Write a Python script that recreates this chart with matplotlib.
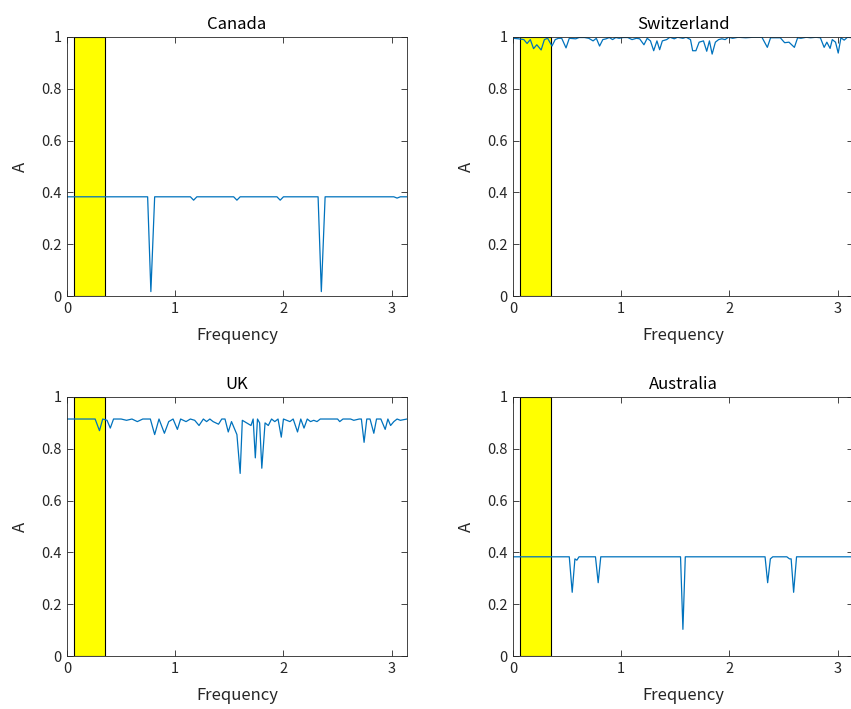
import numpy as np
import matplotlib
matplotlib.use("Agg")
import matplotlib.pyplot as plt
from matplotlib.patches import Rectangle

plt.rcParams['font.family'] = ['Noto Sans CJK JP', 'DejaVu Sans']

# ── data ──────────────────────────────────────────────────────────────────────
canada_f = [0.00, 0.745, 0.775, 0.81, 1.14, 1.17, 1.20, 1.54, 1.57, 1.60,
            1.94, 1.97, 2.00, 2.32, 2.35, 2.385, 3.02, 3.05, 3.08, 3.1416]
canada_a = [0.383, 0.383, 0.017, 0.383, 0.383, 0.370, 0.383, 0.383, 0.370, 0.383,
            0.383, 0.370, 0.383, 0.383, 0.017, 0.383, 0.383, 0.378, 0.383, 0.383]

swiss_f = [0.00, 0.05, 0.10, 0.13, 0.16, 0.19, 0.22, 0.26, 0.29, 0.32,
           0.36, 0.39, 0.42, 0.45, 0.49, 0.52, 0.58, 0.61, 0.66, 0.70,
           0.74, 0.77, 0.80, 0.83, 0.86, 0.89, 0.92, 0.95, 0.98, 1.02,
           1.06, 1.10, 1.14, 1.17, 1.21, 1.24, 1.27, 1.30, 1.33, 1.355,
           1.38, 1.42, 1.45, 1.49, 1.52, 1.57, 1.60, 1.64, 1.66, 1.69,
           1.72, 1.76, 1.79, 1.815, 1.84, 1.87, 1.90, 1.93, 1.96, 1.99,
           2.03, 2.08, 2.15, 2.22, 2.30, 2.35, 2.38, 2.47, 2.51, 2.55,
           2.60, 2.63, 2.66, 2.71, 2.75, 2.80, 2.84, 2.875, 2.90, 2.93,
           2.95, 2.98, 3.005, 3.03, 3.06, 3.09, 3.1416]
swiss_a = [0.995, 0.993, 0.990, 0.975, 0.990, 0.955, 0.970, 0.950, 0.990, 0.995,
           0.965, 0.990, 0.995, 0.995, 0.958, 0.995, 0.993, 0.998, 0.998, 0.995,
           0.985, 0.995, 0.965, 0.990, 0.993, 0.998, 0.990, 0.998, 0.995, 0.998,
           0.998, 0.990, 0.995, 0.993, 0.970, 0.995, 0.985, 0.947, 0.985, 0.951,
           0.985, 0.990, 0.999, 0.993, 0.999, 0.995, 0.999, 0.990, 0.947, 0.947,
           0.980, 0.985, 0.945, 0.985, 0.934, 0.980, 0.990, 0.993, 0.990, 0.999,
           0.995, 0.999, 0.997, 0.999, 0.999, 0.960, 0.997, 0.997, 0.978, 0.980,
           0.960, 0.997, 0.995, 0.999, 0.997, 0.999, 0.997, 0.960, 0.980, 0.956,
           0.990, 0.980, 0.938, 0.997, 0.988, 0.999, 0.997]

uk_f = [0.00, 0.26, 0.30, 0.33, 0.37, 0.40, 0.43, 0.50, 0.55, 0.60,
        0.65, 0.70, 0.77, 0.81, 0.85, 0.90, 0.94, 0.98, 1.02, 1.05,
        1.10, 1.14, 1.18, 1.22, 1.26, 1.29, 1.32, 1.35, 1.40, 1.43,
        1.46, 1.49, 1.52, 1.57, 1.60, 1.62, 1.66, 1.70, 1.72, 1.74,
        1.76, 1.78, 1.80, 1.83, 1.86, 1.89, 1.92, 1.95, 1.98, 2.00,
        2.03, 2.06, 2.09, 2.13, 2.16, 2.19, 2.22, 2.25, 2.28, 2.31,
        2.34, 2.50, 2.52, 2.55, 2.62, 2.65, 2.70, 2.72, 2.745, 2.77,
        2.80, 2.835, 2.86, 2.90, 2.94, 2.965, 2.99, 3.02, 3.05, 3.08, 3.1416]
uk_a = [0.915, 0.915, 0.870, 0.915, 0.910, 0.880, 0.915, 0.915, 0.910, 0.915,
        0.905, 0.915, 0.915, 0.855, 0.915, 0.860, 0.905, 0.915, 0.875, 0.915,
        0.905, 0.915, 0.910, 0.890, 0.915, 0.905, 0.915, 0.905, 0.895, 0.915,
        0.915, 0.865, 0.905, 0.855, 0.705, 0.910, 0.900, 0.890, 0.915, 0.765,
        0.915, 0.900, 0.725, 0.900, 0.890, 0.915, 0.905, 0.915, 0.845, 0.915,
        0.910, 0.905, 0.915, 0.865, 0.915, 0.880, 0.915, 0.905, 0.910, 0.905,
        0.915, 0.915, 0.905, 0.915, 0.915, 0.910, 0.915, 0.915, 0.825, 0.915,
        0.915, 0.860, 0.915, 0.915, 0.875, 0.915, 0.890, 0.905, 0.915, 0.910, 0.915]

aus_f = [0.00, 0.52, 0.547, 0.572, 0.59, 0.61, 0.762, 0.787, 0.811, 1.548,
         1.57, 1.592, 2.329, 2.353, 2.378, 2.40, 2.53, 2.555, 2.57, 2.593,
         2.62, 3.1416]
aus_a = [0.383, 0.383, 0.246, 0.375, 0.370, 0.383, 0.383, 0.283, 0.383, 0.383,
         0.103, 0.383, 0.383, 0.283, 0.375, 0.383, 0.383, 0.375, 0.375, 0.246,
         0.383, 0.383]

titles = ["Canada", "Switzerland", "UK", "Australia"]
series = [(canada_f, canada_a), (swiss_f, swiss_a), (uk_f, uk_a), (aus_f, aus_a)]

# business-cycle band (rad per period)
band = (2 * np.pi / 96, 2 * np.pi / 18)

# ── layout (pixel boxes of the reference, MATLAB-style) ───────────────────────
W, H = 851, 709
fig = plt.figure(figsize=(W / 100, H / 100), dpi=100)
lefts = [67, 513]
tops = [37, 397]
aw, ah = 340, 259

ax_col = '#262626'
for i, (title, (f, a)) in enumerate(zip(titles, series)):
    r, c = divmod(i, 2)
    ax = fig.add_axes([lefts[c] / W, 1 - (tops[r] + ah) / H, aw / W, ah / H])
    ax.add_patch(Rectangle((band[0], 0), band[1] - band[0], 1,
                           facecolor='#FFFF00', edgecolor='black', linewidth=0.8, zorder=1))
    ax.plot(f, a, color='#0072BD', linewidth=0.9, zorder=2)
    ax.set_xlim(0, np.pi)
    ax.set_ylim(0, 1)
    ax.set_xticks([0, 1, 2, 3])
    ax.set_xticklabels(['0', '1', '2', '3'])
    ax.set_yticks([0, 0.2, 0.4, 0.6, 0.8, 1])
    ax.set_yticklabels(['0', '0.2', '0.4', '0.6', '0.8', '1'])
    ax.tick_params(direction='in', top=True, right=True, length=4, width=0.6,
                   color=ax_col, labelcolor=ax_col, labelsize=10.5, pad=4)
    for s in ax.spines.values():
        s.set_color(ax_col)
        s.set_linewidth(0.6)
    ax.set_title(title, fontsize=12, color='black', pad=6)
    ax.set_xlabel("Frequency", fontsize=12, color=ax_col, labelpad=8)
    ax.set_ylabel("A", fontsize=12, color=ax_col, labelpad=9)

fig.savefig("out.png", dpi=100)
